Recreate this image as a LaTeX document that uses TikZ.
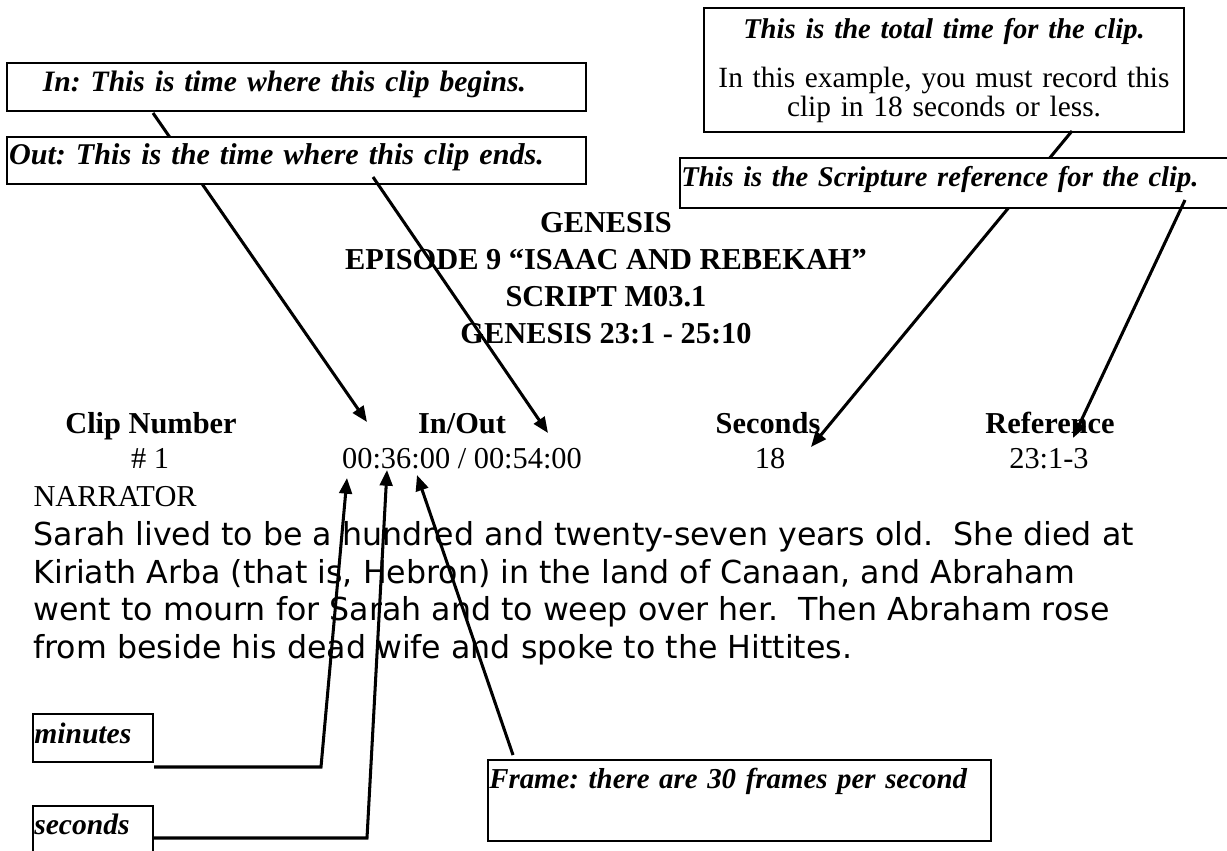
\documentclass[tikz,border=0pt,12pt]{standalone}
\usepackage{fontspec}
\setmainfont{Liberation Serif}
\newfontfamily\verdanafont{DejaVu Sans}
\usetikzlibrary{arrows.meta}

\tikzset{
  callout/.style={draw, line width=0.8pt, fill=white, font=\fontsize{11.7}{14}\selectfont\bfseries\itshape,
    inner ysep=0pt, align=left},
  colhead/.style={anchor=base, font=\bfseries},
  colval/.style={anchor=base},
  pointer/.style={line width=1.2pt, -{Triangle[length=6.2pt,width=5pt]}},
}

\begin{document}
\frenchspacing
\begin{tikzpicture}[x=0.395pt, y=-0.395pt]
  \useasboundingbox (0,0) rectangle (1227,850);

  % script heading and clip table
  \node[anchor=base, align=center, font=\bfseries\fontsize{12}{14.5}\selectfont] (title) at (606,343)
    {GENESIS\\EPISODE 9 ``ISAAC AND REBEKAH''\\SCRIPT M03.1\\GENESIS 23:1 - 25:10};
  \node[colhead] (hClip) at (151,433) {Clip Number};
  \node[colhead] (hInOut) at (462,433) {In/Out};
  \node[colhead] (hSeconds) at (768,433) {Seconds};
  \node[colhead] (hRef) at (1050,433) {Reference};
  \node[colval] (vClip) at (150,468) {\# 1};
  \node[colval] (vInOut) at (462,468) {00:36:00 / 00:54:00};
  \node[colval] (vSeconds) at (770,468) {18};
  \node[colval] (vRef) at (1049,468) {23:1-3};
  \node[anchor=base west, inner xsep=0pt] (narrator) at (33,506) {NARRATOR};
  \node[anchor=base west, inner xsep=0pt, align=left, font=\fontsize{12.5}{14.8}\selectfont\verdanafont] (speech) at (33,658)
    {Sarah lived to be a hundred and twenty-seven years old.\ \ She died at\\
     Kiriath Arba (that is, Hebron) in the land of Canaan, and Abraham\\
     went to mourn for Sarah and to weep over her.\ \ Then Abraham rose\\
     from beside his dead wife and spoke to the Hittites.};

  % callouts at the top
  \node[callout, anchor=north, align=center, font=\fontsize{11.6}{11.5}\selectfont, text width=187.6pt,
        inner xsep=1pt, inner ysep=3.9pt, minimum height=48.6pt] (totalbox) at (944,7)
    {{\fontsize{11.3}{11.5}\selectfont\bfseries\itshape This is the total time for the clip.}\\[7.9pt]
     In this example, you must record this\\clip in 18 seconds or less.};
  \node[callout, anchor=north west, inner xsep=14.2pt, text width=200.3pt, text height=11.1pt, text depth=7.9pt] (inbox) at (6,62)
    {In: This is time where this clip begins.};

  \coordinate (inFoot) at (153,113);
  \coordinate (inTip) at (367,422);
  \draw[pointer] (inFoot) to (inTip);

  \node[callout, anchor=north west, inner xsep=0.8pt, text width=227.1pt, text height=10.7pt, text depth=7.9pt,
        font=\fontsize{11.9}{14}\selectfont\bfseries\itshape] (outbox) at (6,136)
    {Out: This is the time where this clip ends.};
  \coordinate (outFoot) at (373,177);
  \coordinate (outTip) at (548,433);
  \draw[pointer] (outFoot) to (outTip);

  \coordinate (secFoot) at (1072,131);
  \coordinate (secTip) at (811,447);
  \draw[pointer] (secFoot) to (secTip);

  \node[callout, anchor=north west, inner xsep=0.5pt, text width=220.2pt, text height=11.1pt, text depth=8.7pt,
        font=\fontsize{11.3}{14}\selectfont\bfseries\itshape] (refbox) at (679,157)
    {This is the Scripture reference for the clip.};
  \coordinate (refFoot) at (1185,200);
  \coordinate (refTip) at (1073,438);
  \draw[pointer] (refFoot) to (refTip);

  % callouts at the bottom
  \node[callout, anchor=north west, inner xsep=0.5pt, text width=46.4pt, text height=11.5pt, text depth=7.5pt] (minbox) at (32,713) {minutes};
  \node[callout, anchor=north west, inner xsep=0.5pt, text width=46.4pt, text height=11.1pt, text depth=18.6pt] (secbox) at (32,805) {seconds};
  \node[callout, anchor=north west, inner xsep=0.5pt, text width=197.7pt, text height=11.1pt, text depth=20.9pt,
        font=\fontsize{11.4}{14}\selectfont\bfseries\itshape] (framebox) at (487,759)
    {Frame: there are 30 frames per second};

  \coordinate (minBend) at (321,767);
  \coordinate (minTip) at (347,478);
  \draw[pointer] (minbox.east |- minBend) -- (minBend) -- (minTip);
  \coordinate (secBend) at (367,838);
  \coordinate (secsTip) at (387,470);
  \draw[pointer] (secbox.east |- secBend) -- (secBend) -- (secsTip);
  \coordinate (frameFoot) at (513,755);
  \coordinate (frameTip) at (417,475);
  \draw[pointer] (frameFoot) to (frameTip);
\end{tikzpicture}
\end{document}
